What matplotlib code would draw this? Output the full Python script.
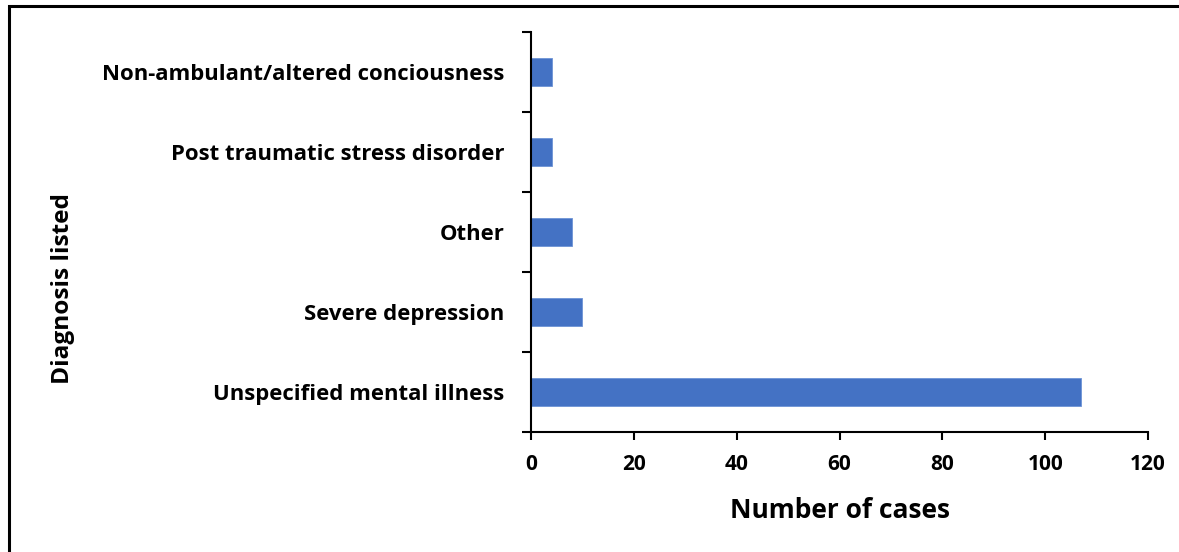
import matplotlib
matplotlib.use("Agg")
import matplotlib.pyplot as plt
from matplotlib.patches import Rectangle

categories = [
    "Unspecified mental illness",
    "Severe depression",
    "Other",
    "Post traumatic stress disorder",
    "Non-ambulant/altered conciousness",
]
cases = [107, 10, 8, 4, 4]
x_ticks = [0, 20, 40, 60, 80, 100, 120]

plt.rcParams["font.family"] = ["Open Sans", "DejaVu Sans"]
plt.rcParams["font.weight"] = "bold"

W, H, DPI = 1179, 552, 100
fig = plt.figure(figsize=(W / DPI, H / DPI), dpi=DPI)
ax = fig.add_axes([531 / W, 1 - 432 / H, (1148 - 531) / W, (432 - 32) / H])

pos = list(range(len(categories)))
ax.barh(pos, cases, height=0.35, color="#4472C4", edgecolor="#6d93d6", linewidth=0.6)

ax.set_xlim(0, 120)
ax.set_ylim(-0.5, len(categories) - 0.5)
ax.set_xticks(x_ticks)
ax.set_xticklabels([str(t) for t in x_ticks], fontsize=15, fontweight="bold")
ax.set_yticks(pos)
ax.set_yticklabels(categories, fontsize=15.9, fontweight="bold")
ax.set_yticks([p - 0.5 for p in pos] + [len(categories) - 0.5], minor=True)

ax.tick_params(axis="y", which="major", length=0, pad=19)
ax.tick_params(axis="y", which="minor", length=6.5, width=1.5, direction="out")
ax.tick_params(axis="x", which="major", length=6, width=1.5, direction="out", pad=10)

for side in ("top", "right"):
    ax.spines[side].set_visible(False)
for side in ("left", "bottom"):
    ax.spines[side].set_linewidth(1.5)

ax.set_xlabel("Number of cases", fontsize=19, fontweight="bold", labelpad=16)
fig.text(63 / W, 1 - 289 / H, "Diagnosis listed", rotation=90, fontsize=17.6,
         fontweight="bold", ha="center", va="center")

# outer frame of the chart area
fig.patches.append(Rectangle((8.5 / W, -0.1), 1.2, 1 - 5.5 / H + 0.1,
                             transform=fig.transFigure, fill=False,
                             edgecolor="black", linewidth=2.2))

fig.savefig("out.png", dpi=DPI)
